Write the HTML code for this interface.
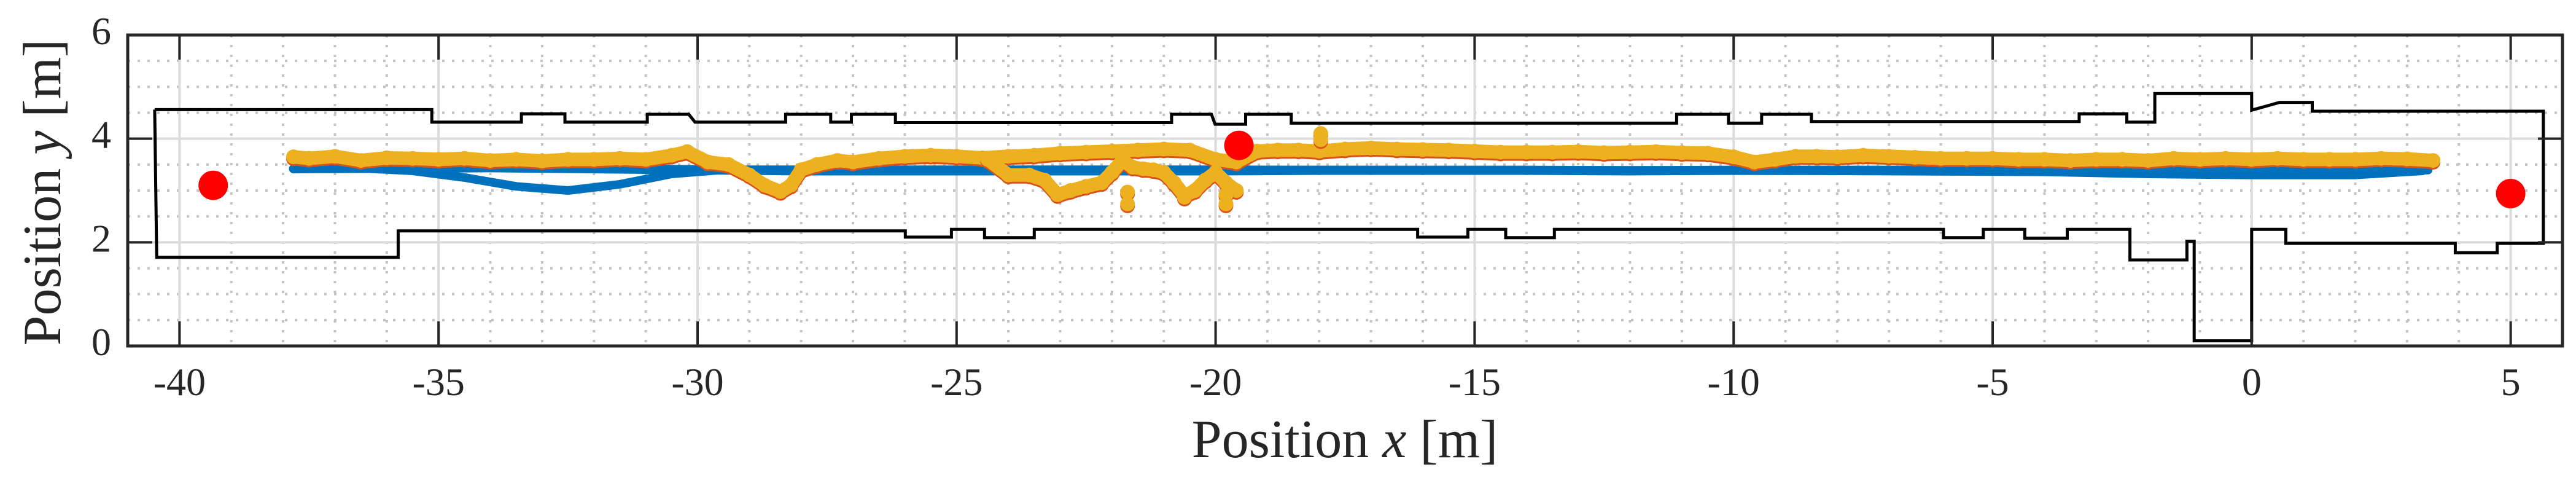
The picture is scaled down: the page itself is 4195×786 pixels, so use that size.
<!DOCTYPE html>
<html><head><meta charset="utf-8"><style>
html,body{margin:0;padding:0;background:#fff;}
svg{display:block;font-family:"Liberation Serif",serif;}
</style></head><body>
<svg id="chart" width="4195" height="786" viewBox="0 0 4195 786" xmlns="http://www.w3.org/2000/svg">
<rect x="0" y="0" width="4195" height="786" fill="#fff"/>
<g id="grid"></g>
<g id="boundary"></g>
<g id="blue"></g>
<g id="yellow"></g>
<g id="anchors"></g>
<g id="axes"></g>
<text x="2190" y="744" font-size="88" text-anchor="middle" fill="#262626">Position <tspan font-style="italic">x</tspan> [m]</text>
<text transform="translate(98,313) rotate(-90)" font-size="88" text-anchor="middle" fill="#262626">Position <tspan font-style="italic">y</tspan> [m]</text>
</svg>
<script>
const xTicks=[-40,-35,-30,-25,-20,-15,-10,-5,0,5];
const yTicks=[0,2,4,6];
const upperX=[-40.48,-35.13,-35.13,-33.4,-33.4,-32.56,-32.56,-30.97,-30.97,-30.17,-30.05,-28.3,-28.3,-27.43,-27.43,-27.03,-27.03,-26.18,-26.18,-20.85,-20.85,-20.08,-20.01,-19.42,-19.42,-18.54,-18.54,-11.1,-11.1,-10.1,-10.1,-9.46,-9.46,-8.5,-8.5,-3.33,-3.33,-2.41,-2.41,-1.87,-1.87,0.0,0.0,0.54,1.17,1.17,5.63];
const upperY=[4.56,4.56,4.32,4.32,4.48,4.48,4.32,4.32,4.47,4.47,4.32,4.32,4.47,4.47,4.32,4.32,4.47,4.47,4.31,4.31,4.47,4.47,4.28,4.28,4.47,4.47,4.30,4.30,4.47,4.47,4.30,4.30,4.47,4.47,4.33,4.33,4.48,4.48,4.32,4.32,4.87,4.87,4.55,4.70,4.70,4.53,4.53];
const lowerX=[5.63,4.74,4.74,3.93,3.93,0.66,0.66,0.0,0.0,-1.11,-1.11,-1.25,-1.25,-2.35,-2.35,-3.56,-3.56,-4.38,-4.38,-5.18,-5.18,-5.95,-5.95,-13.46,-13.46,-14.4,-14.4,-15.13,-15.13,-16.1,-16.1,-23.5,-23.5,-24.46,-24.46,-25.1,-25.1,-25.99,-25.99,-35.78,-35.78,-40.44,-40.48];
const lowerY=[1.98,1.98,1.80,1.80,1.98,1.98,2.25,2.25,0.10,0.10,2.02,2.02,1.66,1.66,2.25,2.25,2.08,2.08,2.25,2.25,2.09,2.09,2.25,2.25,2.09,2.09,2.25,2.25,2.10,2.10,2.25,2.25,2.09,2.09,2.25,2.25,2.10,2.10,2.22,2.22,1.71,1.71,4.56];
const blueX=[-37.8,-36,-34,-32,-30,-28,-26,-24,-22,-20,-18,-16,-14,-12,-10,-8,-6,-4,-2,0,2,3.4];
const blueY=[3.42,3.43,3.44,3.42,3.40,3.38,3.38,3.38,3.38,3.38,3.39,3.39,3.39,3.38,3.39,3.39,3.39,3.39,3.38,3.37,3.36,3.40];
const loopX=[3.3,2,0,-2,-4,-8,-12,-16,-20,-24,-28,-29.5,-30.5,-31.5,-32.5,-33.5,-34.5,-35.5,-36.5,-37.8];
const loopY=[3.38,3.30,3.30,3.32,3.36,3.38,3.39,3.39,3.40,3.40,3.40,3.40,3.32,3.12,3.00,3.08,3.25,3.38,3.43,3.42];
const posX=[-37.8,-37.5,-37,-36.5,-36,-35.5,-35,-34.5,-34,-33.5,-33,-32.5,-32,-31.5,-31,-30.5,-30.2,-29.8,-29.4,-29,-28.7,-28.4,-28.2,-28,-27.7,-27.3,-27,-26.5,-26,-25.5,-25,-24.5,-24,-23.5,-23,-22.5,-22,-21.5,-21,-20.5,-20,-19.6,-19.2,-18.8,-18.4,-18,-17.5,-17,-16.5,-16,-15.5,-15,-14.5,-14,-13.5,-13,-12.5,-12,-11.5,-11,-10.5,-10,-9.6,-9.2,-8.8,-8.4,-8,-7.5,-7,-6.5,-6,-5.5,-5,-4.5,-4,-3.5,-3,-2.5,-2,-1.5,-1,-0.5,0,0.5,1,1.5,2,2.5,3,3.5];
const posY=[3.65,3.62,3.66,3.58,3.63,3.62,3.60,3.62,3.58,3.60,3.57,3.60,3.60,3.62,3.60,3.68,3.75,3.55,3.50,3.30,3.10,2.98,3.10,3.40,3.50,3.58,3.55,3.62,3.66,3.68,3.66,3.63,3.66,3.68,3.72,3.74,3.76,3.78,3.80,3.78,3.60,3.55,3.76,3.78,3.78,3.76,3.80,3.82,3.80,3.79,3.78,3.76,3.74,3.74,3.74,3.75,3.73,3.74,3.75,3.73,3.72,3.65,3.55,3.60,3.66,3.66,3.65,3.68,3.66,3.64,3.62,3.62,3.62,3.60,3.60,3.58,3.60,3.60,3.58,3.62,3.60,3.62,3.60,3.62,3.60,3.60,3.60,3.62,3.61,3.58];
const devX=[-24.4,-24,-23.6,-23.3,-23.05,-22.8,-22.5,-22.2,-22.0,-21.8,-21.6,-21.4,-21.2,-21.0,-20.8,-20.6,-20.4,-20.2,-20.0,-19.8,-19.6];
const devY=[3.60,3.30,3.30,3.20,2.92,3.00,3.08,3.15,3.35,3.58,3.45,3.42,3.40,3.35,3.15,2.90,3.00,3.20,3.35,3.15,3.00];
const outX=[-21.7,-21.7,-19.8,-19.8,-17.97,-17.97,-20.6];
const outY=[2.97,2.74,2.74,2.92,4.10,3.98,2.87];
const anchorX=[-39.35,-19.55,5.0];
const anchorY=[3.10,3.87,2.94];

const L=208,R=4173,T=57,B=563,XMIN=-41,XMAX=6,YMIN=0,YMAX=6;
const sx=v=>L+(v-XMIN)/(XMAX-XMIN)*(R-L);
const sy=v=>B-(v-YMIN)/(YMAX-YMIN)*(B-T);
const NS="http://www.w3.org/2000/svg";
function mk(tag,parent,attrs){const e=document.createElementNS(NS,tag);for(const k in attrs)e.setAttribute(k,attrs[k]);parent.appendChild(e);return e;}
const grid=document.getElementById('grid');
for(let x=-41;x<=6;x++){
  if(x%5===0) continue;
  const l=mk('line',grid,{x1:sx(x),x2:sx(x),y1:T,y2:B,stroke:'#c4c4c4','stroke-width':4,'stroke-dasharray':'4 12'});
  
  
}
for(let i=0;i<=12;i++){
  const y=i*0.5; if(i%4===0) continue;
  const l=mk('line',grid,{x1:L,x2:R,y1:sy(y),y2:sy(y),stroke:'#c4c4c4','stroke-width':4,'stroke-dasharray':'4 12'});
  
  
}
xTicks.forEach(t=>{
  const l=mk('line',grid,{x1:sx(t),x2:sx(t),y1:T,y2:B,stroke:'#dcdcdc','stroke-width':4});
  
  
});
yTicks.forEach(t=>{
  const l=mk('line',grid,{x1:L,x2:R,y1:sy(t),y2:sy(t),stroke:'#dcdcdc','stroke-width':4});
  
  
});
function pts(xs,ys){return xs.map((x,i)=>sx(x).toFixed(1)+','+sy(ys[i]).toFixed(1)).join(' ');}
const bnd=document.getElementById('boundary');
const bp=mk('polyline',bnd,{points:pts(upperX.concat(lowerX),upperY.concat(lowerY)),fill:'none',stroke:'#000','stroke-width':5,'stroke-linejoin':'miter'});


const blue=document.getElementById('blue');
const b1=mk('polyline',blue,{points:pts(blueX,blueY),fill:'none',stroke:'#0072BD','stroke-width':15,'stroke-linejoin':'round','stroke-linecap':'round'});


const b2=mk('polyline',blue,{points:pts(loopX,loopY),fill:'none',stroke:'#0072BD','stroke-width':14,'stroke-linejoin':'round','stroke-linecap':'round'});


const yel=document.getElementById('yellow');
function scatter(xs,ys,name,line){
  const g=mk('g',yel,{transform:'translate(0,3)'});
  
  
  const g2=mk('g',yel,{});
  
  
  [[g,'#D95319'],[g2,'#EDB120']].forEach(([gg,c])=>{
    if(line){const p=mk('polyline',gg,{points:pts(xs,ys),fill:'none',stroke:c,'stroke-width':22,'stroke-linejoin':'round','stroke-linecap':'round'});
      
      }
    xs.forEach((x,i)=>{const c2=mk('circle',gg,{cx:sx(x),cy:sy(ys[i]),r:12,fill:c});
      
      });
  });
}
scatter(posX,posY,'position-estimate',true);
scatter(devX,devY,'deviation-estimate',true);
scatter(outX,outY,'outlier-estimate',false);
const an=document.getElementById('anchors');
anchorX.forEach((x,i)=>{const c=mk('circle',an,{cx:sx(x),cy:sy(anchorY[i]),r:24,fill:'#ff0000'});
  
  });
const ax=document.getElementById('axes');
const fr=mk('rect',ax,{x:L,y:T,width:R-L,height:B-T,fill:'none',stroke:'#262626','stroke-width':5});


xTicks.forEach(t=>{
  [[B,B-40],[T,T+40]].forEach(([a,b])=>{const l=mk('line',ax,{x1:sx(t),x2:sx(t),y1:a,y2:b,stroke:'#262626','stroke-width':4});
    
    });
  const tx=mk('text',ax,{x:sx(t),y:643,'font-size':64,'text-anchor':'middle',fill:'#262626'});
  tx.textContent=String(t);
  
  
});
yTicks.forEach(t=>{
  [[L,L+40],[R,R-40]].forEach(([a,b])=>{const l=mk('line',ax,{x1:a,x2:b,y1:sy(t),y2:sy(t),stroke:'#262626','stroke-width':4});
    
    });
  const tx=mk('text',ax,{x:181,y:sy(t)+15,'font-size':64,'text-anchor':'end',fill:'#262626'});
  tx.textContent=String(t);
  
  
});
</script>
</body></html>
